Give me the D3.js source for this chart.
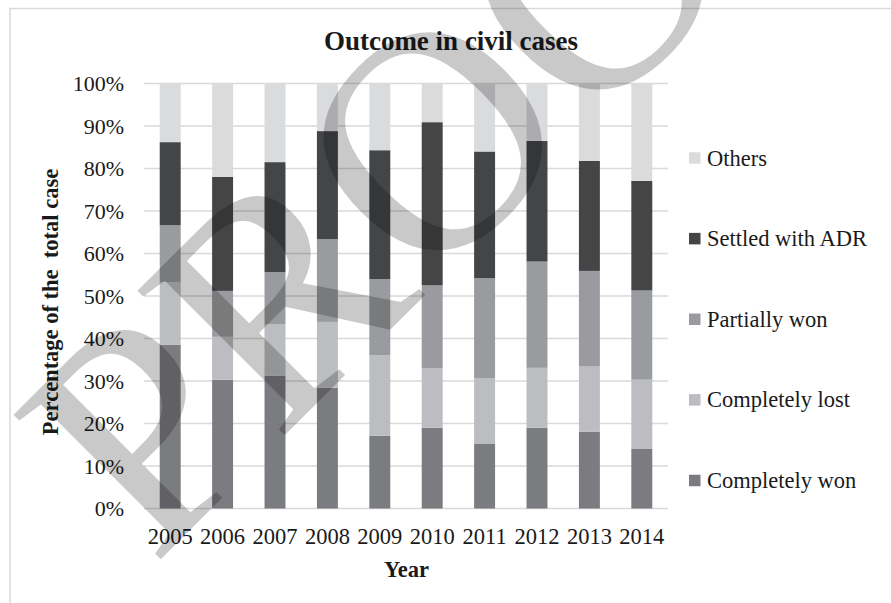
<!DOCTYPE html>
<html>
<head>
<meta charset="utf-8">
<script src="https://cdn.jsdelivr.net/npm/d3@7"></script>
<style>
  html, body { margin: 0; padding: 0; background: #fff; }
  svg { display: block; }
  text { font-family: "Liberation Serif", "Times New Roman", serif; fill: #1a1a1a; }
</style>
</head>
<body>
<svg id="chart" width="891" height="603"></svg>
<script>
const years = ["2005","2006","2007","2008","2009","2010","2011","2012","2013","2014"];
const seriesNames = ["Completely won","Completely lost","Partially won","Settled with ADR","Others"];
const completelyWon  = [38.5, 30.3, 31.2, 28.4, 17.1, 19.0, 15.3, 19.0, 18.1, 14.0];
const completelyLost = [14.8, 10.1, 12.1, 15.5, 19.0, 14.0, 15.4, 14.1, 15.3, 16.3];
const partiallyWon   = [13.4, 10.8, 12.3, 19.5, 17.9, 19.5, 23.5, 25.0, 22.5, 21.0];
const settledADR     = [19.5, 26.8, 25.9, 25.4, 30.3, 38.4, 29.8, 28.4, 25.9, 25.8];
const others         = [13.8, 22.0, 18.5, 11.2, 15.7,  9.1, 16.0, 13.5, 18.2, 22.9];
const yTicks = [0,10,20,30,40,50,60,70,80,90,100];
const colors = ["#7b7c80", "#bcbdc0", "#9a9b9e", "#444547", "#dadbdd"];

(function () {
const seriesValues = [completelyWon, completelyLost, partiallyWon, settledADR, others];
const rows = years.map((yr, i) => {
  const r = { year: yr };
  seriesNames.forEach((s, k) => r[s] = seriesValues[k][i]);
  return r;
});

const svg = d3.select("#chart");

// chart border
svg.append("rect").attr("x", 10).attr("y", 8.5).attr("width", 900).attr("height", 620)
  .attr("fill", "none").attr("stroke", "#d9d9d9").attr("stroke-width", 1.5);

const plotL = 144, plotR = 668, plotT = 83.5, plotB = 508.5;
const x = d3.scaleBand().domain(years).range([plotL, plotR]).paddingInner(0.6).paddingOuter(0.3);
const y = d3.scaleLinear().domain([0, 100]).range([plotB, plotT]);

// gridlines
svg.append("g").selectAll("line").data(yTicks).join("line")
  .attr("x1", plotL).attr("x2", plotR)
  .attr("y1", d => y(d)).attr("y2", d => y(d))
  .attr("stroke", "#d9d9d9").attr("stroke-width", 1.5);

// stacked bars
const stack = d3.stack().keys(seriesNames)(rows);
const color = d3.scaleOrdinal().domain(seriesNames).range(colors);
svg.append("g").selectAll("g").data(stack).join("g")
  .attr("fill", d => color(d.key))
  .selectAll("rect").data(d => d).join("rect")
  .attr("x", d => x(d.data.year))
  .attr("width", x.bandwidth())
  .attr("y", d => y(d[1]))
  .attr("height", d => y(d[0]) - y(d[1]));

// y axis labels
const yAxis = d3.axisLeft(y).tickValues(yTicks).tickFormat(d => d + "%").tickSize(0).tickPadding(0);
const gy = svg.append("g").attr("transform", `translate(${plotL - 20},0)`).call(yAxis);
gy.select(".domain").remove();
gy.selectAll("text").style("font-size", "22px").style("font-family", '"Liberation Serif", serif').attr("fill", "#1a1a1a");

// x axis labels
const xAxis = d3.axisBottom(x).tickSize(0).tickPadding(0);
const gx = svg.append("g").attr("transform", `translate(0,${plotB})`).call(xAxis);
gx.select(".domain").remove();
gx.selectAll("text").style("font-size", "22.5px").style("font-family", '"Liberation Serif", serif')
  .attr("fill", "#1a1a1a").attr("dy", null).attr("y", 35.5);

// title
svg.append("text").attr("x", 451).attr("y", 50).attr("text-anchor", "middle")
  .style("font-size", "27px").style("font-weight", "bold").text("Outcome in civil cases");

// axis titles
svg.append("text").attr("transform", "translate(58,302) rotate(-90)").attr("text-anchor", "middle")
  .style("font-size", "22.5px").style("font-weight", "bold").style("white-space", "pre")
  .text("Percentage of the  total case");
svg.append("text").attr("x", 406.5).attr("y", 577).attr("text-anchor", "middle")
  .style("font-size", "22.5px").style("font-weight", "bold").text("Year");

// legend (top: Others ... bottom: Completely won)
const legendOrder = seriesNames.slice().reverse();
const legendY = d3.scalePoint().domain(legendOrder).range([158, 480.5]);
const lg = svg.append("g").selectAll("g").data(legendOrder).join("g")
  .attr("transform", d => `translate(689,${legendY(d)})`);
lg.append("rect").attr("x", 0).attr("y", -5.75).attr("width", 11.5).attr("height", 11.5)
  .attr("fill", d => color(d));
lg.append("text").attr("x", 18).attr("y", 7.5).style("font-size", "22.5px").text(d => d);

// watermark
svg.append("text").attr("transform", "translate(153,567) rotate(-45)")
  .style("font-size", "315px").style("font-family", '"Liberation Serif", serif')
  .style("fill", "#000").style("fill-opacity", 0.21).style("pointer-events", "none")
  .text("PROOF");
})();
</script>
</body>
</html>
